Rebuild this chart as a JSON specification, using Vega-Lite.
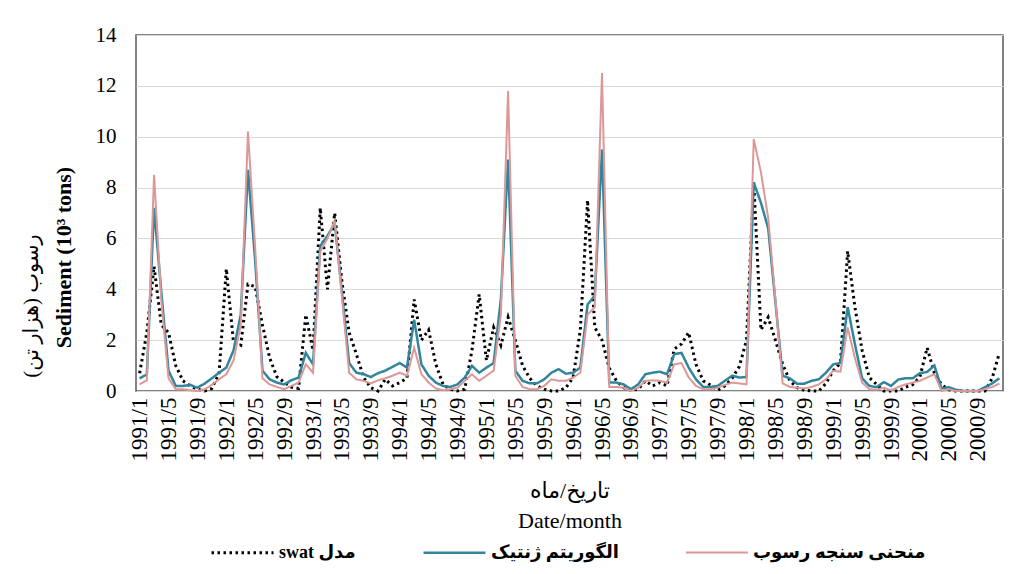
{
  "$schema": "https://vega.github.io/schema/vega-lite/v6.json",
  "width": 867,
  "height": 356,
  "autosize": "none",
  "padding": {"left": 136, "top": 35, "right": 11, "bottom": 183},
  "background": "white",
  "config": {
    "view": {"stroke": "#595959", "strokeWidth": 1.5},
    "font": "Liberation Serif"
  },
  "title": {
    "text": "\u202Bرسوب (هزار تن)\u202C",
    "orient": "left",
    "anchor": "middle",
    "font": "Liberation Serif, DejaVu Sans",
    "fontSize": 21,
    "fontWeight": "normal",
    "color": "black",
    "offset": 10,
    "dx": -93
  },
  "data": {
    "values": [
      {"m": "1991/1", "swat": 0.7, "ga": 0.5, "src": 0.26},
      {"m": "1991/2", "swat": 2.3, "ga": 0.65, "src": 0.42},
      {"m": "1991/3", "swat": 4.9, "ga": 7.2, "src": 8.5},
      {"m": "1991/4", "swat": 2.6, "ga": 3.9, "src": 3.6},
      {"m": "1991/5", "swat": 2.3, "ga": 0.8, "src": 0.5},
      {"m": "1991/6", "swat": 1.0, "ga": 0.2, "src": 0.07},
      {"m": "1991/7", "swat": 0.4, "ga": 0.2, "src": 0.07},
      {"m": "1991/8", "swat": 0.2, "ga": 0.24, "src": 0.03},
      {"m": "1991/9", "swat": 0.07, "ga": 0.13, "src": 0.0},
      {"m": "1991/10", "swat": 0.0, "ga": 0.29, "src": 0.07},
      {"m": "1991/11", "swat": 0.1, "ga": 0.5, "src": 0.24},
      {"m": "1991/12", "swat": 0.7, "ga": 0.72, "src": 0.46},
      {"m": "1992/1", "swat": 4.8, "ga": 0.92, "src": 0.66},
      {"m": "1992/2", "swat": 1.9, "ga": 1.6, "src": 1.2},
      {"m": "1992/3", "swat": 1.8, "ga": 3.0, "src": 2.6},
      {"m": "1992/4", "swat": 4.2, "ga": 8.7, "src": 10.2},
      {"m": "1992/5", "swat": 4.1, "ga": 5.1, "src": 5.6},
      {"m": "1992/6", "swat": 2.6, "ga": 0.8, "src": 0.5},
      {"m": "1992/7", "swat": 1.3, "ga": 0.46, "src": 0.26},
      {"m": "1992/8", "swat": 0.56, "ga": 0.33, "src": 0.16},
      {"m": "1992/9", "swat": 0.35, "ga": 0.26, "src": 0.07},
      {"m": "1992/10", "swat": 0.15, "ga": 0.42, "src": 0.2},
      {"m": "1992/11", "swat": 0.1, "ga": 0.53, "src": 0.33},
      {"m": "1992/12", "swat": 3.0, "ga": 1.5, "src": 1.05},
      {"m": "1993/1", "swat": 1.6, "ga": 1.05, "src": 0.72},
      {"m": "1993/2", "swat": 7.2, "ga": 5.7, "src": 5.5},
      {"m": "1993/3", "swat": 4.0, "ga": 6.1, "src": 6.0},
      {"m": "1993/4", "swat": 7.0, "ga": 6.6, "src": 6.7},
      {"m": "1993/5", "swat": 4.3, "ga": 3.9, "src": 3.7},
      {"m": "1993/6", "swat": 2.3, "ga": 1.1, "src": 0.72},
      {"m": "1993/7", "swat": 1.45, "ga": 0.72, "src": 0.46},
      {"m": "1993/8", "swat": 0.53, "ga": 0.66, "src": 0.4},
      {"m": "1993/9", "swat": 0.13, "ga": 0.55, "src": 0.3},
      {"m": "1993/10", "swat": 0.0, "ga": 0.7, "src": 0.42},
      {"m": "1993/11", "swat": 0.46, "ga": 0.8, "src": 0.5},
      {"m": "1993/12", "swat": 0.2, "ga": 0.95, "src": 0.6},
      {"m": "1994/1", "swat": 0.33, "ga": 1.1, "src": 0.72},
      {"m": "1994/2", "swat": 0.5, "ga": 0.92, "src": 0.6},
      {"m": "1994/3", "swat": 3.6, "ga": 2.8, "src": 1.7},
      {"m": "1994/4", "swat": 2.0, "ga": 1.05, "src": 0.66},
      {"m": "1994/5", "swat": 2.4, "ga": 0.6, "src": 0.33},
      {"m": "1994/6", "swat": 1.05, "ga": 0.33, "src": 0.1},
      {"m": "1994/7", "swat": 0.26, "ga": 0.2, "src": 0.03},
      {"m": "1994/8", "swat": 0.07, "ga": 0.16, "src": 0.07},
      {"m": "1994/9", "swat": 0.0, "ga": 0.26, "src": 0.13},
      {"m": "1994/10", "swat": 0.07, "ga": 0.53, "src": 0.4},
      {"m": "1994/11", "swat": 1.6, "ga": 0.99, "src": 0.66},
      {"m": "1994/12", "swat": 3.8, "ga": 0.72, "src": 0.4},
      {"m": "1995/1", "swat": 1.2, "ga": 0.92, "src": 0.6},
      {"m": "1995/2", "swat": 2.5, "ga": 1.1, "src": 0.8},
      {"m": "1995/3", "swat": 1.8, "ga": 3.6, "src": 3.0},
      {"m": "1995/4", "swat": 2.9, "ga": 9.1, "src": 11.8},
      {"m": "1995/5", "swat": 2.0, "ga": 0.8, "src": 0.6},
      {"m": "1995/6", "swat": 1.0, "ga": 0.4, "src": 0.16},
      {"m": "1995/7", "swat": 0.5, "ga": 0.3, "src": 0.07},
      {"m": "1995/8", "swat": 0.2, "ga": 0.3, "src": 0.07},
      {"m": "1995/9", "swat": 0.07, "ga": 0.46, "src": 0.2},
      {"m": "1995/10", "swat": 0.0, "ga": 0.72, "src": 0.46},
      {"m": "1995/11", "swat": 0.0, "ga": 0.86, "src": 0.4},
      {"m": "1995/12", "swat": 0.13, "ga": 0.68, "src": 0.4},
      {"m": "1996/1", "swat": 0.53, "ga": 0.72, "src": 0.53},
      {"m": "1996/2", "swat": 2.4, "ga": 0.92, "src": 0.72},
      {"m": "1996/3", "swat": 7.5, "ga": 3.4, "src": 3.0},
      {"m": "1996/4", "swat": 2.5, "ga": 3.75, "src": 3.3},
      {"m": "1996/5", "swat": 2.0, "ga": 9.5, "src": 12.5},
      {"m": "1996/6", "swat": 0.9, "ga": 0.33, "src": 0.16},
      {"m": "1996/7", "swat": 0.4, "ga": 0.33, "src": 0.16},
      {"m": "1996/8", "swat": 0.13, "ga": 0.26, "src": 0.13},
      {"m": "1996/9", "swat": 0.03, "ga": 0.07, "src": 0.0},
      {"m": "1996/10", "swat": 0.07, "ga": 0.26, "src": 0.13},
      {"m": "1996/11", "swat": 0.4, "ga": 0.66, "src": 0.4},
      {"m": "1996/12", "swat": 0.2, "ga": 0.72, "src": 0.42},
      {"m": "1997/1", "swat": 0.33, "ga": 0.76, "src": 0.4},
      {"m": "1997/2", "swat": 0.2, "ga": 0.66, "src": 0.33},
      {"m": "1997/3", "swat": 1.65, "ga": 1.45, "src": 1.05},
      {"m": "1997/4", "swat": 1.85, "ga": 1.5, "src": 1.1},
      {"m": "1997/5", "swat": 2.3, "ga": 0.92, "src": 0.53},
      {"m": "1997/6", "swat": 1.05, "ga": 0.46, "src": 0.2},
      {"m": "1997/7", "swat": 0.4, "ga": 0.16, "src": 0.07},
      {"m": "1997/8", "swat": 0.24, "ga": 0.16, "src": 0.07},
      {"m": "1997/9", "swat": 0.03, "ga": 0.2, "src": 0.13},
      {"m": "1997/10", "swat": 0.2, "ga": 0.4, "src": 0.24},
      {"m": "1997/11", "swat": 0.5, "ga": 0.6, "src": 0.33},
      {"m": "1997/12", "swat": 0.96, "ga": 0.53, "src": 0.3},
      {"m": "1998/1", "swat": 2.0, "ga": 0.55, "src": 0.26},
      {"m": "1998/2", "swat": 8.2, "ga": 8.2, "src": 9.9},
      {"m": "1998/3", "swat": 2.4, "ga": 7.4, "src": 8.6},
      {"m": "1998/4", "swat": 2.9, "ga": 6.4, "src": 6.8},
      {"m": "1998/5", "swat": 2.0, "ga": 3.5, "src": 3.6},
      {"m": "1998/6", "swat": 1.05, "ga": 0.6, "src": 0.3},
      {"m": "1998/7", "swat": 0.4, "ga": 0.5, "src": 0.16},
      {"m": "1998/8", "swat": 0.13, "ga": 0.29, "src": 0.13},
      {"m": "1998/9", "swat": 0.03, "ga": 0.29, "src": 0.1},
      {"m": "1998/10", "swat": 0.0, "ga": 0.4, "src": 0.16},
      {"m": "1998/11", "swat": 0.0, "ga": 0.46, "src": 0.26},
      {"m": "1998/12", "swat": 0.3, "ga": 0.72, "src": 0.46},
      {"m": "1999/1", "swat": 0.8, "ga": 1.05, "src": 0.8},
      {"m": "1999/2", "swat": 1.1, "ga": 1.1, "src": 0.76},
      {"m": "1999/3", "swat": 5.5, "ga": 3.3, "src": 2.5},
      {"m": "1999/4", "swat": 3.3, "ga": 1.85, "src": 1.3},
      {"m": "1999/5", "swat": 1.6, "ga": 0.5, "src": 0.33},
      {"m": "1999/6", "swat": 0.53, "ga": 0.2, "src": 0.07},
      {"m": "1999/7", "swat": 0.26, "ga": 0.15, "src": 0.05},
      {"m": "1999/8", "swat": 0.0, "ga": 0.35, "src": 0.13},
      {"m": "1999/9", "swat": 0.0, "ga": 0.2, "src": 0.03},
      {"m": "1999/10", "swat": 0.0, "ga": 0.45, "src": 0.16},
      {"m": "1999/11", "swat": 0.15, "ga": 0.5, "src": 0.26},
      {"m": "1999/12", "swat": 0.25, "ga": 0.5, "src": 0.33},
      {"m": "2000/1", "swat": 0.55, "ga": 0.7, "src": 0.4},
      {"m": "2000/2", "swat": 1.7, "ga": 0.75, "src": 0.53},
      {"m": "2000/3", "swat": 0.7, "ga": 1.0, "src": 0.66},
      {"m": "2000/4", "swat": 0.25, "ga": 0.1, "src": 0.0},
      {"m": "2000/5", "swat": 0.05, "ga": 0.15, "src": 0.07},
      {"m": "2000/6", "swat": 0.0, "ga": 0.05, "src": 0.0},
      {"m": "2000/7", "swat": 0.0, "ga": 0.0, "src": 0.0},
      {"m": "2000/8", "swat": 0.0, "ga": 0.0, "src": 0.0},
      {"m": "2000/9", "swat": 0.0, "ga": 0.0, "src": 0.0},
      {"m": "2000/10", "swat": 0.0, "ga": 0.15, "src": 0.07},
      {"m": "2000/11", "swat": 0.5, "ga": 0.3, "src": 0.16},
      {"m": "2000/12", "swat": 1.5, "ga": 0.5, "src": 0.29}
    ]
  },
  "transform": [
    {"fold": ["swat", "ga", "src"], "as": ["series", "value"]}
  ],
  "mark": {"type": "line", "strokeJoin": "miter"},
  "encoding": {
    "x": {
      "field": "m",
      "type": "ordinal",
      "sort": null,
      "scale": {"type": "point", "padding": 0.5},
      "axis": {
        "values": ["1991/1","1991/5","1991/9","1992/1","1992/5","1992/9","1993/1","1993/5","1993/9","1994/1","1994/5","1994/9","1995/1","1995/5","1995/9","1996/1","1996/5","1996/9","1997/1","1997/5","1997/9","1998/1","1998/5","1998/9","1999/1","1999/5","1999/9","2000/1","2000/5","2000/9"],
        "labelAngle": -90,
        "labelAlign": "right",
        "labelBaseline": "middle",
        "labelFont": "Liberation Serif",
        "labelFontSize": 23,
        "labelColor": "black",
        "labelPadding": 6,
        "labelOverlap": false,
        "ticks": false,
        "domain": false,
        "grid": false,
        "title": ["تاریخ/ماه", "Date/month"],
        "titleFont": "Liberation Serif, DejaVu Sans",
        "titleFontSize": 22,
        "titleFontWeight": "normal",
        "titleColor": "black",
        "titleLineHeight": 30,
        "titlePadding": 20
      }
    },
    "y": {
      "field": "value",
      "type": "quantitative",
      "scale": {"domain": [0, 14], "nice": false},
      "axis": {
        "values": [0, 2, 4, 6, 8, 10, 12, 14],
        "grid": true,
        "gridColor": "#d9d9d9",
        "gridWidth": 1.2,
        "domain": false,
        "ticks": false,
        "labelFont": "Liberation Serif",
        "labelFontSize": 21,
        "labelColor": "black",
        "labelPadding": 20,
        "title": "Sediment (10³ tons)",
        "titleFont": "Liberation Serif",
        "titleFontSize": 22,
        "titleFontWeight": "bold",
        "titleColor": "black",
        "titleX": -73,
        "titleY": 222,
        "titleAngle": -90,
        "titleAlign": "center",
        "titleBaseline": "middle"
      }
    },
    "color": {
      "field": "series",
      "type": "nominal",
      "scale": {"domain": ["swat", "ga", "src"], "range": ["#000000", "#31859C", "#DC9896"]},
      "legend": {
        "orient": "none",
        "legendX": 74,
        "legendY": 485,
        "direction": "horizontal",
        "title": null,
        "symbolType": "stroke",
        "symbolSize": 3844,
        "labelFont": "Liberation Serif, DejaVu Sans",
        "labelFontSize": 18,
        "labelFontWeight": "bold",
        "labelColor": "black",
        "labelLimit": 400,
        "columnPadding": 62,
        "labelExpr": "datum.value == 'swat' ? '\u202Bمدل swat\u202C' : datum.value == 'ga' ? 'الگوریتم ژنتیک' : 'منحنی سنجه رسوب'"
      }
    },
    "strokeDash": {
      "field": "series",
      "type": "nominal",
      "scale": {"domain": ["swat", "ga", "src"], "range": [[2.5, 3.5], [1, 0], [1, 0]]},
      "legend": null
    },
    "strokeWidth": {
      "field": "series",
      "type": "nominal",
      "scale": {"domain": ["swat", "ga", "src"], "range": [3, 2, 2.5]},
      "legend": null
    }
  }
}
